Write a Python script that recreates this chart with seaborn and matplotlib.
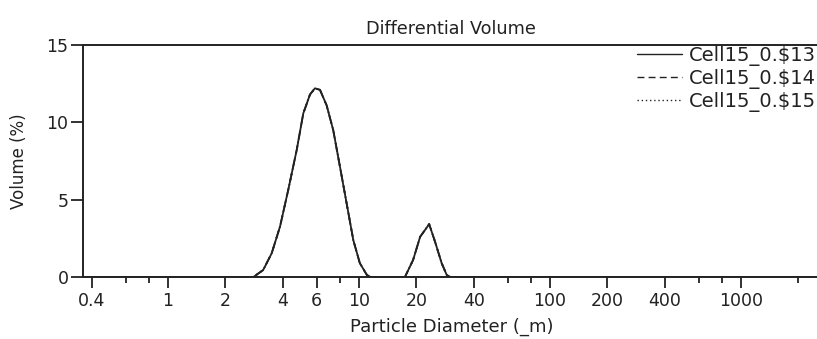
import numpy as np
import pandas as pd
import matplotlib
matplotlib.use("Agg")
import matplotlib.pyplot as plt
import seaborn as sns
from matplotlib.ticker import FixedLocator, NullFormatter

# Data (particle diameter in um, differential volume %)
diameter = [0.36, 2.80, 3.15, 3.49, 3.86, 4.26, 4.72, 5.11, 5.54, 5.88, 6.25, 6.77,
            7.33, 7.96, 8.62, 9.34, 10.1, 11.0, 11.5, 17.4, 19.2, 20.9, 22.2, 23.3,
            25.0, 27.1, 28.8, 30.0, 2500]
vol_13 = [0.0, 0.0, 0.45, 1.53, 3.26, 5.62, 8.21, 10.58, 11.8, 12.2, 12.1, 11.1,
          9.5, 7.1, 4.75, 2.38, 0.90, 0.13, 0.0, 0.0, 1.1, 2.6, 3.05, 3.42,
          2.29, 0.89, 0.13, 0.0, 0.0]
vol_14 = list(vol_13)
vol_15 = list(vol_13)
series_names = ["Cell15_0.$13", "Cell15_0.$14", "Cell15_0.$15"]
major_ticks = [0.4, 1, 2, 4, 6, 10, 20, 40, 100, 200, 400, 1000]
minor_ticks = [0.6, 0.8, 8, 60, 80, 600, 800, 2000]
y_ticks = [0, 5, 10, 15]

df = pd.DataFrame({
    "diameter": diameter * 3,
    "volume": vol_13 + vol_14 + vol_15,
    "series": sum([[n] * len(diameter) for n in series_names], []),
})

sns.set_style("ticks")
plt.rcParams["font.family"] = ["DejaVu Sans"]
ink = "#222222"
plt.rcParams["text.color"] = ink
plt.rcParams["axes.labelcolor"] = ink
plt.rcParams["xtick.color"] = ink
plt.rcParams["ytick.color"] = ink

fig = plt.figure(figsize=(8.17, 3.39), dpi=100)
ax = fig.add_axes([83 / 817, 1 - 277 / 339, 1 - 83 / 817, (277 - 45) / 339])

styles = ["-", (0, (5, 3)), (0, (1, 2))]
for name, ls in zip(series_names, styles):
    sub = df[df["series"] == name]
    sns.lineplot(data=sub, x="diameter", y="volume", ax=ax, color=ink,
                 linewidth=1.3, linestyle=ls, label=name, estimator=None, sort=False)

ax.set_xscale("log")
ax.set_xlim(0.359, 2500)
ax.set_ylim(0, 15)
ax.xaxis.set_major_locator(FixedLocator(major_ticks))
ax.set_xticklabels([("%g" % t) for t in major_ticks])
ax.xaxis.set_minor_locator(FixedLocator(minor_ticks))
ax.xaxis.set_minor_formatter(NullFormatter())
ax.set_yticks(y_ticks)

for s in ["left", "bottom", "top"]:
    ax.spines[s].set_color(ink)
    ax.spines[s].set_linewidth(1.4)
ax.spines["right"].set_visible(False)

ax.tick_params(axis="x", which="major", direction="out", length=8, width=1.3,
               labelsize=12.5, pad=3)
ax.tick_params(axis="x", which="minor", direction="out", length=4.5, width=1.3)
ax.tick_params(axis="y", which="major", direction="out", length=9, width=1.3,
               labelsize=12.5, pad=1.5)
ax.tick_params(axis="x", which="both", top=False)

ax.set_xlabel("Particle Diameter (_m)", fontsize=13)
ax.xaxis.set_label_coords((452 - 83) / (817 - 83), (277 - 327) / (277 - 45))
ax.xaxis.label.set_va("center")
ax.set_ylabel("Volume (%)", fontsize=12)
ax.yaxis.set_label_coords((19.5 - 83) / (817 - 83), 0.5)
ax.yaxis.label.set_va("center")
fig.text(451 / 817, 1 - 29 / 339, "Differential Volume", ha="center", va="center",
         fontsize=12.7)

leg = ax.legend(loc="upper right", bbox_to_anchor=(1.0, 1 - 45 / 339),
                bbox_transform=fig.transFigure, frameon=False, fontsize=14,
                handlelength=2.3, handletextpad=0.35, labelspacing=0.15,
                borderaxespad=0.0, borderpad=0.05)
for line in leg.get_lines():
    line.set_linewidth(1.0)

fig.savefig("out.png", dpi=100, facecolor="white")
